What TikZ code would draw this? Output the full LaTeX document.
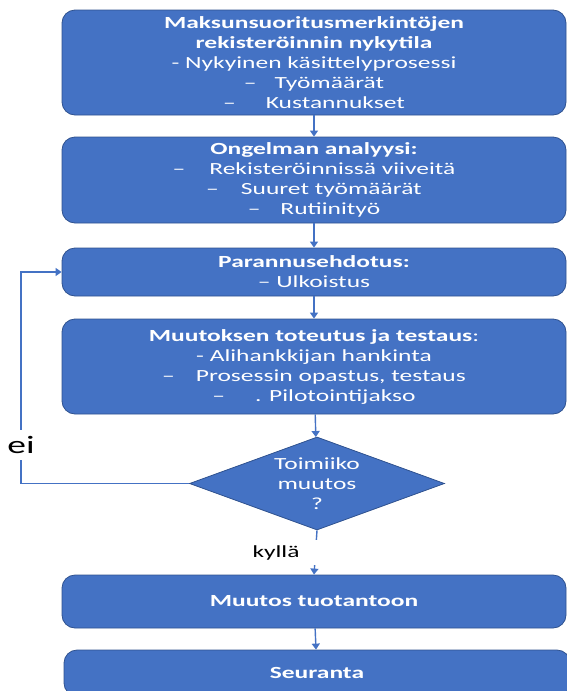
\documentclass[tikz,border=0pt]{standalone}
\usepackage{fontspec}
\setmainfont{Carlito}[FakeStretch=1.5]
\usetikzlibrary{shapes.geometric,arrows.meta}
\definecolor{boxblue}{HTML}{4472C4}
\definecolor{edgeblue}{HTML}{2F528F}

\begin{document}
\begin{tikzpicture}[x=1pt,y=-1pt,
  stepbox/.style={draw=edgeblue, line width=0.8pt, fill=boxblue, rounded corners=13pt,
    minimum width=504pt, text=white, align=center, inner sep=0pt,
    font=\fontsize{17}{20}\selectfont},
  decision/.style={diamond, draw=edgeblue, line width=0.8pt, fill=boxblue, inner sep=0pt,
    minimum width=255pt, minimum height=93pt},
  decisiontext/.style={text=white, align=center, inner sep=0pt, font=\fontsize{17}{20}\selectfont},
  flow/.style={draw=boxblue, line width=1.4pt, -{Triangle[length=6pt,width=8pt]}},
  answer/.style={fill=white, text=black, inner sep=0pt}
]
\useasboundingbox (0,0) rectangle (567,691);

% process steps
\node[stepbox, minimum height=105pt] (b1) at (314,62.5)
  {\textbf{Maksunsuoritusmerkintöjen}\\
   \textbf{rekisteröinnin nykytila}\\
   - Nykyinen käsittelyprosessi\\
   –\hspace{18pt}Työmäärät\\
   –\hspace{30pt}Kustannukset};
\node[stepbox, minimum height=86pt] (b2) at (314,180)
  {\textbf{Ongelman analyysi:}\\
   –\hspace{24pt}Rekisteröinnissä viiveitä\\
   –\hspace{22pt}Suuret työmäärät\\
   –\hspace{20pt}Rutiinityö};
\node[stepbox, minimum height=48pt] (b3) at (314,272)
  {\textbf{Parannusehdotus:}\\
   – Ulkoistus};
\node[stepbox, minimum height=95pt] (b4) at (314,366.5)
  {\textbf{Muutoksen toteutus ja testaus}:\\
   - Alihankkijan hankinta\\
   –\hspace{21pt}Prosessin opastus, testaus\\
   –\hspace{30pt}. Pilotointijakso};

% decision
\node[decision] (dec) at (317,483.5) {};
\node[decisiontext] (dectext) at (dec.center) {Toimiiko\\muutos\\?};

\node[stepbox, minimum height=53pt] (b5) at (314,601.5) {\textbf{Muutos tuotantoon}};
\node[stepbox, minimum width=506pt, minimum height=46pt] (b6) at (317,673) {\textbf{Seuranta}};

% connectors
\draw[flow] (b1) -- (b2);
\draw[flow] (b2) -- (b3);
\draw[flow] (b3) -- (b4);
\draw[flow] (b4) -- (dec);
\draw[flow] (dec.south) -- node[answer, text width=100pt, align=left, minimum height=25pt,
    xshift=-13pt, font=\fontsize{17}{20}\selectfont] (yes) {kyllä} (b5.north);
\draw[flow] (b5) -- (b6);
\draw[flow] (dec.west) -- ++(-168,0) |- node[answer, pos=0.09, minimum height=30pt,
    font=\fontsize{25}{28}\selectfont] (no) {ei} (b3.west);
\end{tikzpicture}
\end{document}
